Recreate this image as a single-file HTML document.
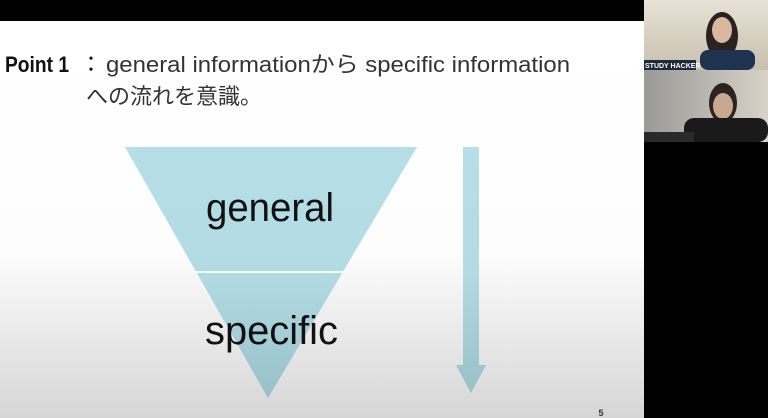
<!DOCTYPE html>
<html><head><meta charset="utf-8"><style>
body{margin:0;width:768px;height:418px;overflow:hidden;background:#000;}
svg{display:block}
</style></head><body>
<svg width="768" height="418" xmlns="http://www.w3.org/2000/svg">
<defs>
<linearGradient id="bg" x1="0" y1="0" x2="0" y2="1">
<stop offset="0" stop-color="#fff"/><stop offset="0.58" stop-color="#fdfdfd"/><stop offset="1" stop-color="#d6d6d6"/>
</linearGradient>
<linearGradient id="tri" x1="0" y1="0" x2="0" y2="1">
<stop offset="0" stop-color="#b6dee6"/><stop offset="0.5" stop-color="#b3dbe3"/><stop offset="1" stop-color="#97c0c9"/>
</linearGradient>
<linearGradient id="v1" x1="0" y1="0" x2="0" y2="1">
<stop offset="0" stop-color="#e8e2d6"/><stop offset="1" stop-color="#c8c0b0"/>
</linearGradient>
<linearGradient id="v2" x1="0" y1="0" x2="1" y2="0">
<stop offset="0" stop-color="#9a9a98"/><stop offset="1" stop-color="#d8d2c8"/>
</linearGradient>
</defs>
<rect x="0" y="21" width="644" height="397" fill="url(#bg)"/>
<rect x="644" y="0" width="124" height="70" fill="url(#v1)"/>
<ellipse cx="722" cy="36" rx="16" ry="24" fill="#2a2220"/>
<ellipse cx="722" cy="30" rx="10" ry="13" fill="#d9b8a0"/>
<rect x="700" y="50" width="55" height="20" rx="8" fill="#1e3350"/>
<rect x="644" y="60" width="52" height="10" fill="#1e2a3c"/>
<text x="645" y="68" font-family="Liberation Sans" font-weight="bold" font-size="7" fill="#fff">STUDY HACKER</text>
<rect x="644" y="70" width="124" height="72" fill="url(#v2)"/>
<ellipse cx="723" cy="103" rx="14" ry="20" fill="#2a2420"/>
<ellipse cx="723" cy="106" rx="10" ry="13" fill="#c8a890"/>
<rect x="684" y="118" width="84" height="24" rx="10" fill="#1a1a1a"/>
<rect x="644" y="132" width="50" height="10" fill="#2a2a2a"/>
<text x="5" y="72" font-family="Liberation Sans" font-weight="bold" font-size="22" fill="#111" textLength="64" lengthAdjust="spacingAndGlyphs">Point 1</text>
<text x="80" y="72" font-family="Liberation Sans, Noto Sans CJK JP, sans-serif" font-size="22" fill="#111">：</text>
<text x="106" y="72" font-family="Liberation Sans, Noto Sans CJK JP, sans-serif" font-size="22" fill="#333" textLength="464" lengthAdjust="spacingAndGlyphs">general informationから specific information</text>
<text x="86" y="104" font-family="Liberation Sans, Noto Sans CJK JP, sans-serif" font-size="22" fill="#333" textLength="176" lengthAdjust="spacingAndGlyphs">への流れを意識。</text>
<polygon points="125,147 417,147 268,398" fill="url(#tri)"/>
<line x1="195" y1="272" x2="345" y2="272" stroke="#f2fafb" stroke-width="2"/>
<text x="206" y="221" font-family="Liberation Sans" font-size="40" fill="#111" textLength="128" lengthAdjust="spacingAndGlyphs">general</text>
<text x="205" y="344" font-family="Liberation Sans" font-size="40" fill="#111" textLength="133" lengthAdjust="spacingAndGlyphs">specific</text>
<polygon points="463,147 479,147 479,365 486,365 471,393 456,365 463,365" fill="url(#tri)"/>
<text x="601" y="416" text-anchor="middle" font-family="Liberation Sans" font-weight="bold" font-size="9" fill="#333">5</text>
</svg>
</body></html>
